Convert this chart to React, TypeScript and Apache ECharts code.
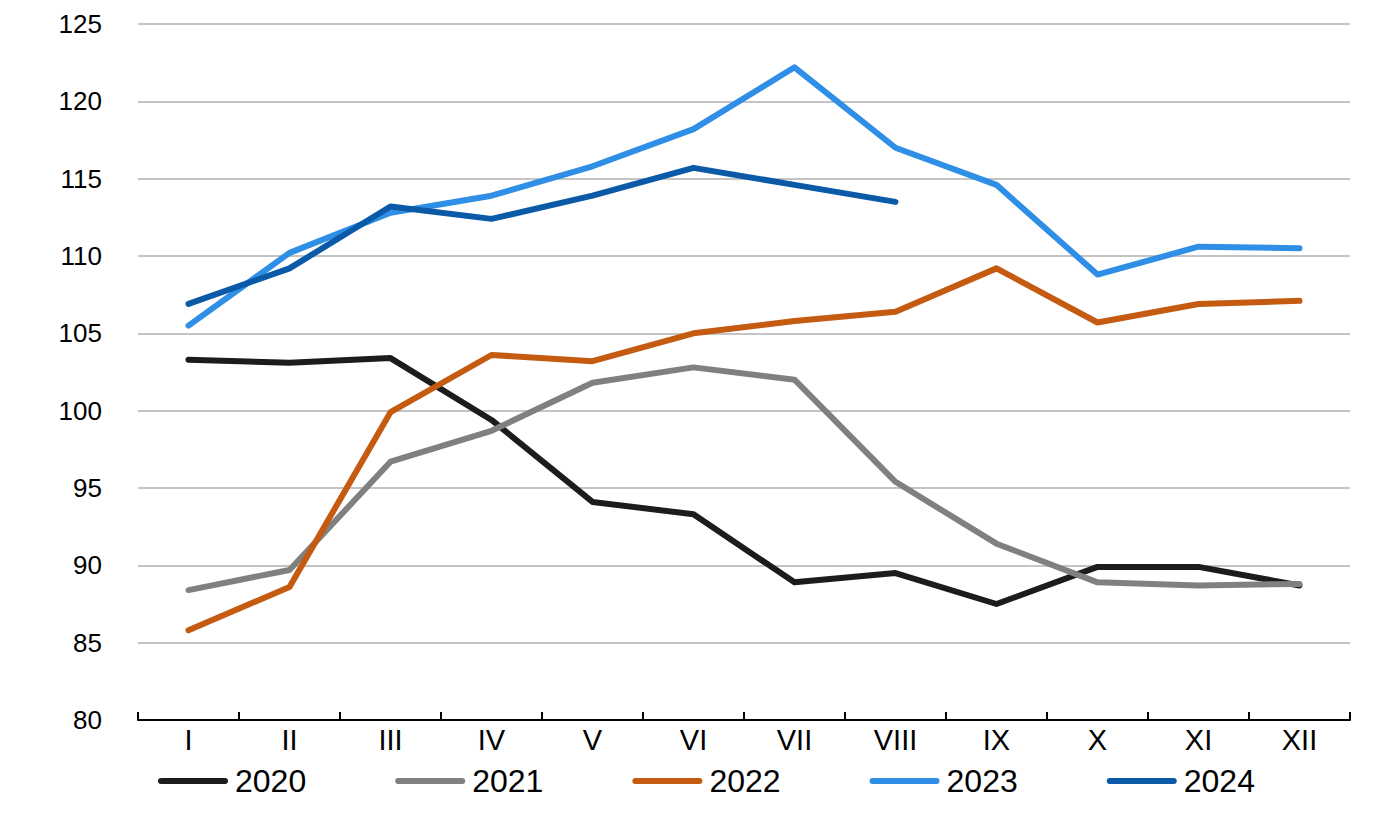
import React, { useEffect, useRef } from "react";
import * as echarts from "echarts";

const months = ["I", "II", "III", "IV", "V", "VI", "VII", "VIII", "IX", "X", "XI", "XII"];
const s2020 = [103.3, 103.1, 103.4, 99.4, 94.1, 93.3, 88.9, 89.5, 87.5, 89.9, 89.9, 88.7];
const s2021 = [88.4, 89.7, 96.7, 98.7, 101.8, 102.8, 102.0, 95.4, 91.4, 88.9, 88.7, 88.8];
const s2022 = [85.8, 88.6, 99.9, 103.6, 103.2, 105.0, 105.8, 106.4, 109.2, 105.7, 106.9, 107.1];
const s2023 = [105.5, 110.2, 112.8, 113.9, 115.8, 118.2, 122.2, 117.0, 114.6, 108.8, 110.6, 110.5];
const s2024 = [106.9, 109.2, 113.2, 112.4, 113.9, 115.7, 114.6, 113.5];
const seriesNames = ["2020", "2021", "2022", "2023", "2024"];
const seriesData = [s2020, s2021, s2022, s2023, s2024];
const colors = ["#1c1c1c", "#808080", "#c55a11", "#2f8fe6", "#0b5aa8"];

const FONT = "Liberation Sans, Arial, sans-serif";

export default function App() {
  const ref = useRef<HTMLDivElement>(null);
  useEffect(() => {
    if (!ref.current) return;
    const chart = echarts.init(ref.current, undefined, { renderer: "svg" });
    chart.setOption({
      animation: false,
      backgroundColor: "#ffffff",
      grid: { left: 138, right: 50, top: 24, bottom: 104, containLabel: false },
      legend: {
        left: 153,
        top: 760,
        itemWidth: 70,
        itemHeight: 6,
        itemGap: 89,
        icon: "path://M3,0 L67,0 A3,3 0 0 1 67,6 L3,6 A3,3 0 0 1 3,0 Z",
        textStyle: { fontFamily: FONT, fontSize: 32, color: "#000", width: 71, padding: [0, 0, 0, 2] },
        data: seriesNames,
      },
      xAxis: {
        type: "category",
        data: months,
        boundaryGap: true,
        axisLine: { lineStyle: { color: "#000", width: 2 } },
        axisTick: { show: true, inside: true, length: 8, lineStyle: { color: "#000", width: 2 } },
        axisLabel: { fontFamily: FONT, fontSize: 29, color: "#000", margin: 5, interval: 0 },
        splitLine: { show: false },
      },
      yAxis: {
        type: "value",
        min: 80,
        max: 125,
        interval: 5,
        axisLine: { show: false },
        axisTick: { show: false },
        axisLabel: { fontFamily: FONT, fontSize: 26, color: "#000", margin: 36 },
        splitLine: { lineStyle: { color: "#c4c4c4", width: 2 } },
      },
      series: seriesNames.map((name, i) => ({
        name,
        type: "line",
        data: seriesData[i],
        symbol: "none",
        color: colors[i],
        lineStyle: { color: colors[i], width: 6, cap: "round", join: "round" },
        z: i === 4 ? 10 : 2 + i,
      })),
    });
    return () => chart.dispose();
  }, []);
  return (
    <div
      ref={ref}
      style={{ position: "fixed", left: 0, top: 0, width: 1400, height: 824 }}
    />
  );
}
